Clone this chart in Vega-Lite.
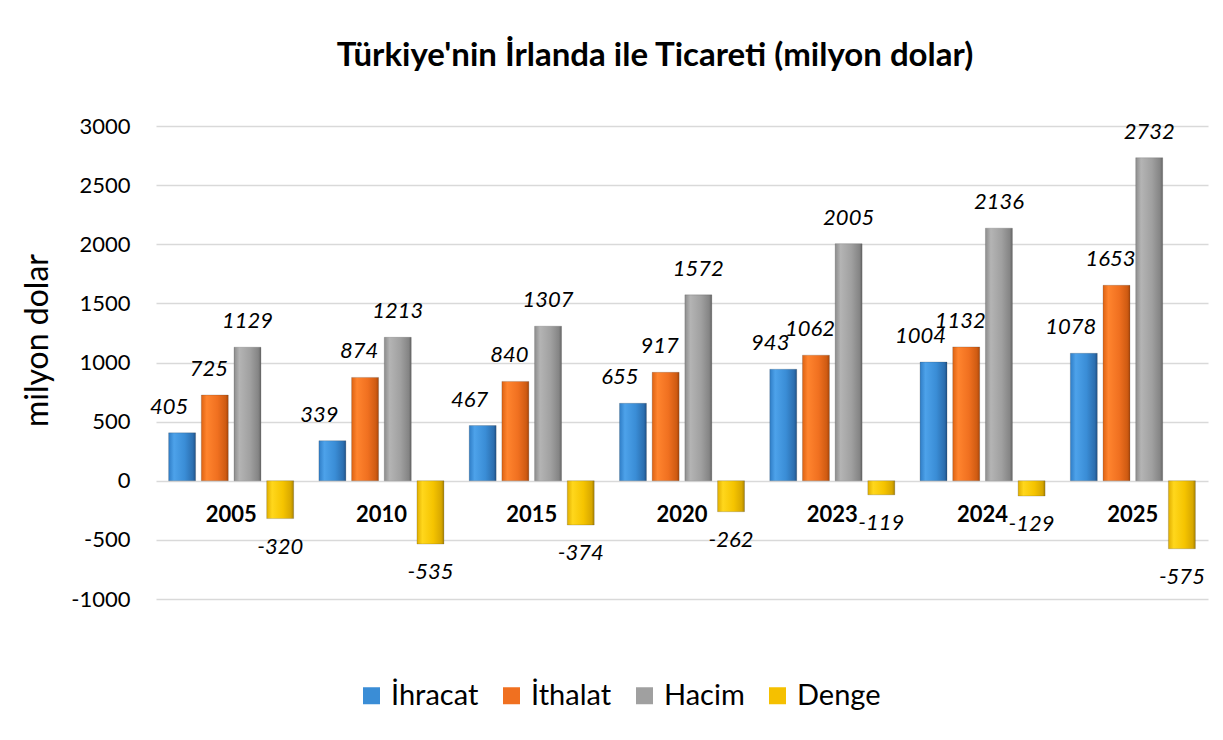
{
  "$schema": "https://vega.github.io/schema/vega-lite/v6.json",
  "autosize": {"type": "none"},
  "padding": {"left": 156, "top": 126, "right": 15, "bottom": 141},
  "width": 1052,
  "height": 473,
  "background": "white",
  "config": {
    "font": "Lato",
    "view": {"stroke": null}
  },
  "title": {
    "text": "Türkiye'nin İrlanda ile Ticareti (milyon dolar)",
    "fontSize": 33,
    "font": "Lato",
    "fontWeight": "bold",
    "color": "black",
    "anchor": "middle",
    "frame": "group",
    "offset": 42,
    "dx": -27
  },
  "data": {
    "values": [
      {"year": "2005", "s": "İhracat", "v": 405},
      {"year": "2005", "s": "İthalat", "v": 725},
      {"year": "2005", "s": "Hacim", "v": 1129},
      {"year": "2005", "s": "Denge", "v": -320},
      {"year": "2010", "s": "İhracat", "v": 339},
      {"year": "2010", "s": "İthalat", "v": 874},
      {"year": "2010", "s": "Hacim", "v": 1213},
      {"year": "2010", "s": "Denge", "v": -535},
      {"year": "2015", "s": "İhracat", "v": 467},
      {"year": "2015", "s": "İthalat", "v": 840},
      {"year": "2015", "s": "Hacim", "v": 1307},
      {"year": "2015", "s": "Denge", "v": -374},
      {"year": "2020", "s": "İhracat", "v": 655},
      {"year": "2020", "s": "İthalat", "v": 917},
      {"year": "2020", "s": "Hacim", "v": 1572},
      {"year": "2020", "s": "Denge", "v": -262},
      {"year": "2023", "s": "İhracat", "v": 943},
      {"year": "2023", "s": "İthalat", "v": 1062},
      {"year": "2023", "s": "Hacim", "v": 2005},
      {"year": "2023", "s": "Denge", "v": -119},
      {"year": "2024", "s": "İhracat", "v": 1004},
      {"year": "2024", "s": "İthalat", "v": 1132},
      {"year": "2024", "s": "Hacim", "v": 2136},
      {"year": "2024", "s": "Denge", "v": -129},
      {"year": "2025", "s": "İhracat", "v": 1078},
      {"year": "2025", "s": "İthalat", "v": 1653},
      {"year": "2025", "s": "Hacim", "v": 2732},
      {"year": "2025", "s": "Denge", "v": -575}
    ]
  },
  "encoding": {
    "x": {
      "field": "year",
      "type": "nominal",
      "sort": null,
      "scale": {"paddingInner": 0.168, "paddingOuter": 0.084},
      "axis": {
        "title": null,
        "orient": "bottom",
        "offset": -119,
        "domain": false,
        "ticks": false,
        "labelAngle": 0,
        "labelFontSize": 22,
        "labelFontWeight": "bold",
        "labelColor": "black",
        "labelPadding": 24,
        "labelBaseline": "top",
        "zindex": 1
      }
    },
    "xOffset": {
      "field": "s",
      "type": "nominal",
      "sort": ["İhracat", "İthalat", "Hacim", "Denge"],
      "scale": {"paddingInner": 0.175, "paddingOuter": 0}
    },
    "y": {
      "field": "v",
      "type": "quantitative",
      "scale": {"domain": [-1000, 3000], "nice": false, "zero": false},
      "axis": {
        "title": "milyon dolar",
        "titleFontSize": 32,
        "titleFontWeight": "normal",
        "titleColor": "black",
        "titleAngle": -90,
        "titleX": -119,
        "titleY": 214,
        "titleAlign": "center",
        "titleBaseline": "middle",
        "values": [-1000, -500, 0, 500, 1000, 1500, 2000, 2500, 3000],
        "labelExpr": "'' + datum.value",
        "domain": false,
        "ticks": false,
        "labelFontSize": 22,
        "labelColor": "black",
        "labelPadding": 26,
        "gridColor": "#D9D9D9",
        "gridWidth": 1.5
      }
    }
  },
  "layer": [
    {
      "mark": {"type": "bar", "stroke": "#333333", "strokeWidth": 0.5, "strokeOpacity": 0.4},
      "encoding": {
        "color": {
          "field": "s",
          "type": "nominal",
          "scale": {
            "domain": ["İhracat", "İthalat", "Hacim", "Denge"],
            "range": ["#3A8DD6", "#F07020", "#A0A0A0", "#F5C000"]
          },
          "legend": {
            "title": null,
            "orient": "none",
            "legendX": 201,
            "legendY": 555,
            "direction": "horizontal",
            "symbolType": "square",
            "symbolSize": 289,
            "symbolStrokeWidth": 0,
            "labelFontSize": 29,
            "labelColor": "black",
            "labelOffset": 5,
            "columnPadding": 18,
            "labelLimit": 300
          },
          "condition": [
            {"test": "datum.s === 'İhracat'", "value": {"gradient": "linear", "x1": 0, "x2": 1, "y1": 0, "y2": 0, "stops": [{"offset": 0, "color": "#2F7DC6"}, {"offset": 0.2, "color": "#4DA2EA"}, {"offset": 0.6, "color": "#3A8DD6"}, {"offset": 0.9, "color": "#2C6FB0"}, {"offset": 1, "color": "#1F5288"}]}},
            {"test": "datum.s === 'İthalat'", "value": {"gradient": "linear", "x1": 0, "x2": 1, "y1": 0, "y2": 0, "stops": [{"offset": 0, "color": "#DD6212"}, {"offset": 0.2, "color": "#FF842E"}, {"offset": 0.6, "color": "#F07020"}, {"offset": 0.9, "color": "#CF5B12"}, {"offset": 1, "color": "#A8460A"}]}},
            {"test": "datum.s === 'Hacim'", "value": {"gradient": "linear", "x1": 0, "x2": 1, "y1": 0, "y2": 0, "stops": [{"offset": 0, "color": "#8C8C8C"}, {"offset": 0.2, "color": "#B4B4B4"}, {"offset": 0.6, "color": "#A0A0A0"}, {"offset": 0.9, "color": "#858585"}, {"offset": 1, "color": "#666666"}]}},
            {"test": "datum.s === 'Denge'", "value": {"gradient": "linear", "x1": 0, "x2": 1, "y1": 0, "y2": 0, "stops": [{"offset": 0, "color": "#E0AE00"}, {"offset": 0.2, "color": "#FFD71C"}, {"offset": 0.6, "color": "#F5C400"}, {"offset": 0.9, "color": "#D8A800"}, {"offset": 1, "color": "#A88200"}]}}
          ]
        }
      }
    },
    {
      "transform": [{"filter": "datum.s === 'İhracat'"}],
      "mark": {"type": "text", "baseline": "alphabetic", "dy": -19, "dx": -13, "fontSize": 22, "fontStyle": "italic", "color": "black"},
      "encoding": {"text": {"field": "v", "type": "nominal"}}
    },
    {
      "transform": [{"filter": "datum.s === 'İthalat'"}],
      "mark": {"type": "text", "baseline": "alphabetic", "dy": -19, "dx": -6, "fontSize": 22, "fontStyle": "italic", "color": "black"},
      "encoding": {"text": {"field": "v", "type": "nominal"}}
    },
    {
      "transform": [{"filter": "datum.s === 'Hacim'"}],
      "mark": {"type": "text", "baseline": "alphabetic", "dy": -19, "fontSize": 22, "fontStyle": "italic", "color": "black"},
      "encoding": {"text": {"field": "v", "type": "nominal"}}
    },
    {
      "transform": [{"filter": "datum.s === 'Denge'"}],
      "mark": {"type": "text", "baseline": "top", "dy": 18, "fontSize": 22, "fontStyle": "italic", "color": "black"},
      "encoding": {"text": {"field": "v", "type": "nominal"}}
    }
  ]
}
